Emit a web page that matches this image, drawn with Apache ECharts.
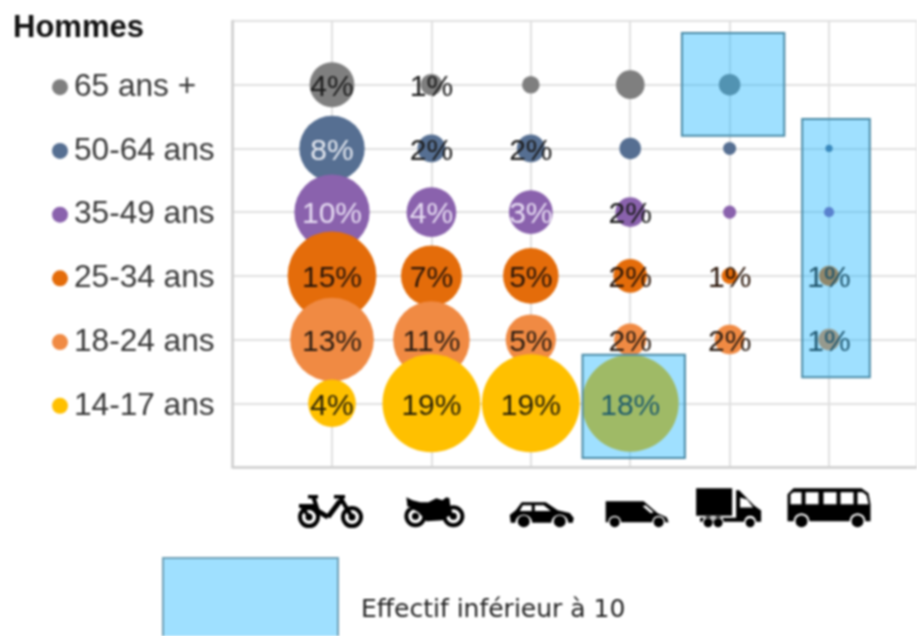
<!DOCTYPE html>
<html>
<head>
<meta charset="utf-8">
<style>
  html, body { margin: 0; padding: 0; background: #fff; overflow: hidden; }
  #chart { width: 917px; height: 636px; filter: blur(0.8px); }
</style>
<script src="https://cdn.jsdelivr.net/npm/echarts@6/dist/echarts.min.js"></script>
</head>
<body>
<div id="chart"></div>
<script>
const ageGroups = ['14-17 ans', '18-24 ans', '25-34 ans', '35-49 ans', '50-64 ans', '65 ans +'];

// estimated shares (%) per vehicle: bike, motorbike, car, van, truck, bus
const share14 = [4.4, 18.6, 18.6, 18.2, null, null];
const share18 = [13.6, 11.4, 4.9, 2.0, 1.7, 0.9];
const share25 = [15.3, 7.2, 6.0, 2.2, 0.5, 0.8];
const share35 = [11.0, 4.8, 3.7, 1.7, 0.33, 0.2];
const share50 = [8.3, 1.5, 1.5, 0.9, 0.33, 0.1];
const share65 = [3.9, 0.9, 0.6, 1.6, 0.9, null];

const labels14 = ['4%', '19%', '19%', '18%', '', ''];
const labels18 = ['13%', '11%', '5%', '2%', '2%', '1%'];
const labels25 = ['15%', '7%', '5%', '2%', '1%', '1%'];
const labels35 = ['10%', '4%', '3%', '2%', '', ''];
const labels50 = ['8%', '2%', '2%', '', '', ''];
const labels65 = ['4%', '1%', '', '', '', ''];

// drawn back to front, the younger groups sit on top
const rows = [
  { row: 6, values: share65, labels: labels65, color: '#7f7f7f', text: '#1c1c1c' },
  { row: 5, values: share50, labels: labels50, color: '#566f92', text: '#e4e8f0' },
  { row: 4, values: share35, labels: labels35, color: '#8a62ad', text: '#e6dcf2' },
  { row: 3, values: share25, labels: labels25, color: '#e46c0a', text: '#2a1508' },
  { row: 2, values: share18, labels: labels18, color: '#f08a43', text: '#2a1c12' },
  { row: 1, values: share14, labels: labels14, color: '#ffc000', text: '#2a2208' },
];

// low headcount boxes, in axis units: x from, x to, y from, y to
const lowCountBoxes = [
  [3.52, 4.55, 0.14, 1.76],
  [4.52, 5.55, 5.2, 6.81],
  [5.73, 6.41, 1.41, 5.46],
];

function circle(cx, cy, r, hole) {
  const sweep = hole ? 0 : 1;
  return `M${cx - r} ${cy}A${r} ${r} 0 1 ${sweep} ${cx + r} ${cy}A${r} ${r} 0 1 ${sweep} ${cx - r} ${cy}Z`;
}
function poly(points) {
  return 'M' + points.map((p) => p.join(' ')).join('L') + 'Z';
}
function bar(x1, y1, x2, y2, w) {
  const len = Math.hypot(x2 - x1, y2 - y1);
  const nx = ((y2 - y1) / len) * w / 2;
  const ny = (-(x2 - x1) / len) * w / 2;
  return poly([[x1 + nx, y1 + ny], [x2 + nx, y2 + ny], [x2 - nx, y2 - ny], [x1 - nx, y1 - ny]]);
}
function ringWheel(cx, cy) {
  return circle(cx, cy, 11) + circle(cx, cy, 7, true) + circle(cx, cy, 3.5);
}
// notch for a wheel in the bottom edge of a body, walked right to left
function arch(cx, y, r) {
  const pts = [];
  for (let k = 0; k <= 8; k++) {
    const a = (Math.PI * k) / 8;
    pts.push([cx + r * Math.cos(a), y - r * Math.sin(a)]);
  }
  return pts;
}

const bikeIcon = 'path://' + ringWheel(11, 22) + ringWheel(54, 22)
  + bar(11, 22, 3, 10, 3.5) + poly([[1, 9], [19, 9], [19, 13], [1, 13]])
  + bar(15, 1, 20, 16, 4) + poly([[10, 0], [20, 0], [20, 3.5], [10, 3.5]])
  + bar(20, 16, 30, 22, 5) + bar(30, 22, 42, 6, 5) + bar(42, 2, 54, 22, 4)
  + poly([[36, 0], [47, 0], [47, 3.5], [36, 3.5]]);

const motoIcon = 'path://' + ringWheel(11, 19) + ringWheel(49, 19)
  + poly([[2, 0], [8, 3], [16, 5], [24, 5], [32, 1], [38, 3], [42, 0], [45, 1], [46, 9], [49, 19], [44, 19], [38, 23], [22, 24], [14, 15], [3, 9]]);

const carIcon = 'path://'
  + poly([[12, 0], [36, 0], [48, 8], [60, 11], [64, 16], [63, 21],
      ...arch(50, 21, 8.5), ...arch(14, 21, 8.5), [1, 21], [0, 13], [6, 8]])
  + poly([[13, 3], [10, 9], [22, 9], [22, 3]]) + poly([[25, 3], [25, 9], [41, 9], [34, 3]])
  + circle(14, 19.5, 6) + circle(50, 19.5, 6);

const vanIcon = 'path://'
  + poly([[0, 0], [38, 0], [52, 12], [61, 16], [63, 21],
      ...arch(53, 21, 6.5), ...arch(9, 21, 6.5), [0, 21]])
  + poly([[40, 4], [37, 5], [45, 12], [48, 11]])
  + circle(9, 21, 5) + circle(53, 21, 5);

const truckIcon = 'path://'
  + poly([[0, 0], [36, 0], [36, 27], [0, 27]])
  + poly([[40, 2], [43, 2], [58, 17], [65, 22], [65, 33],
      ...arch(54, 33, 6), ...arch(22, 33, 5.5), ...arch(12, 33, 5.5), [4, 33], [4, 29], [40, 29]])
  + poly([[44, 9], [44, 19], [57, 19], [51, 11]])
  + circle(12, 34, 4.5) + circle(22, 34, 4.5) + circle(54, 34, 4.5);

const busIcon = 'path://'
  + poly([[6, 0], [74, 0], [81, 5], [83, 16], [83, 33],
      ...arch(70, 33, 8), ...arch(14, 33, 8), [0, 33], [0, 6]])
  + poly([[3, 6], [3, 16], [14, 16], [14, 4], [6, 4]]) + poly([[18, 4], [18, 16], [31, 16], [31, 4]])
  + poly([[36, 4], [36, 16], [49, 16], [49, 4]]) + poly([[53, 4], [53, 16], [66, 16], [66, 4]])
  + poly([[70, 4], [70, 16], [81, 16], [79, 7], [75, 4]])
  + circle(14, 33, 6) + circle(70, 33, 6);

const vehicleIcons = [
  { value: [0.985, -0.7], symbol: bikeIcon, symbolSize: [65, 33] },
  { value: [2.03, -0.71], symbol: motoIcon, symbolSize: [60, 30] },
  { value: [3.11, -0.75], symbol: carIcon, symbolSize: [64, 25] },
  { value: [4.07, -0.74], symbol: vanIcon, symbolSize: [63, 26] },
  { value: [4.99, -0.64], symbol: truckIcon, symbolSize: [65, 39] },
  { value: [6.0, -0.64], symbol: busIcon, symbolSize: [83, 39] },
];

const axisRich = {};
rows.forEach((r) => {
  axisRich['dot' + r.row] = { width: 16, height: 16, borderRadius: 8, backgroundColor: r.color };
});
axisRich.txt = { fontSize: 31.6, color: '#383838', padding: [0, 0, 0, 6], fontFamily: 'Liberation Sans' };

const bubbleSeries = rows.map((r) => ({
  type: 'scatter',
  z: 2,
  clip: false,
  animation: false,
  data: r.values.map((v, i) => (v == null ? null : { value: [i + 1, r.row, v] })).filter(Boolean),
  symbolSize: (val) => 22.7 * Math.sqrt(val[2]),
  itemStyle: { color: r.color, opacity: 1 },
  label: {
    show: true,
    position: 'inside',
    offset: [0, 3],
    fontSize: 30,
    fontFamily: 'Liberation Sans',
    color: r.text,
    textBorderWidth: 0,
    formatter: (p) => r.labels[p.value[0] - 1],
  },
}));

// small marks under the dark labels read black in the picture
bubbleSeries.forEach((s, idx) => {
  s.data.forEach((d) => {
    if (idx <= 2 && d.value[2] < 2) {
      d.label = { color: '#1c1c1c' };
    }
  });
});

const chart = echarts.init(document.getElementById('chart'), null, { renderer: 'canvas' });
chart.setOption({
  backgroundColor: '#fff',
  animation: false,
  textStyle: { fontFamily: 'Liberation Sans' },
  title: {
    text: 'Hommes',
    left: 8,
    top: 8,
    textStyle: { fontSize: 31, fontWeight: 'bold', color: '#111111', fontFamily: 'Liberation Sans' },
  },
  grid: { left: 232.6, right: 0, top: 21, bottom: 169 },
  xAxis: {
    type: 'value',
    min: 0,
    max: 6.885,
    interval: 1,
    axisLabel: { show: false },
    axisTick: { show: false },
    axisLine: { show: true, lineStyle: { color: '#cfcfcf', width: 2.5 } },
    splitLine: { show: true, lineStyle: { color: '#e0e0e0', width: 2 } },
  },
  yAxis: {
    type: 'value',
    min: 0,
    max: 7,
    interval: 1,
    axisTick: { show: false },
    axisLine: { show: true, lineStyle: { color: '#cfcfcf', width: 2.5 } },
    splitLine: { show: true, lineStyle: { color: '#e0e0e0', width: 2 } },
    axisLabel: {
      margin: 180.6,
      align: 'left',
      padding: [5, 0, 0, 0],
      rich: axisRich,
      formatter: (v) => (v >= 1 && v <= 6 ? `{dot${v}|}{txt|${ageGroups[v - 1]}}` : ''),
    },
  },
  series: [
    ...bubbleSeries,
    {
      type: 'custom',
      z: 5,
      clip: false,
      animation: false,
      data: lowCountBoxes,
      encode: { x: [0, 1], y: [2, 3] },
      renderItem: (params, api) => {
        const a = api.coord([api.value(0), api.value(3)]);
        const b = api.coord([api.value(1), api.value(2)]);
        return {
          type: 'rect',
          shape: { x: a[0], y: a[1], width: b[0] - a[0], height: b[1] - a[1] },
          style: { fill: 'rgba(15,178,255,0.4)', stroke: '#4a8aa6', lineWidth: 2 },
        };
      },
    },
    {
      type: 'scatter',
      z: 3,
      clip: false,
      animation: false,
      data: vehicleIcons,
      itemStyle: { color: '#000', opacity: 1 },
    },
  ],
  graphic: [
    {
      type: 'rect',
      shape: { x: 163, y: 558, width: 175, height: 90 },
      style: { fill: '#9fe0ff', stroke: '#6f9fb5', lineWidth: 2 },
    },
    {
      type: 'text',
      x: 361,
      y: 610,
      style: {
        text: 'Effectif inférieur à 10',
        font: '25px "DejaVu Sans"',
        fill: '#222222',
        textVerticalAlign: 'middle',
      },
    },
  ],
});
</script>
</body>
</html>
